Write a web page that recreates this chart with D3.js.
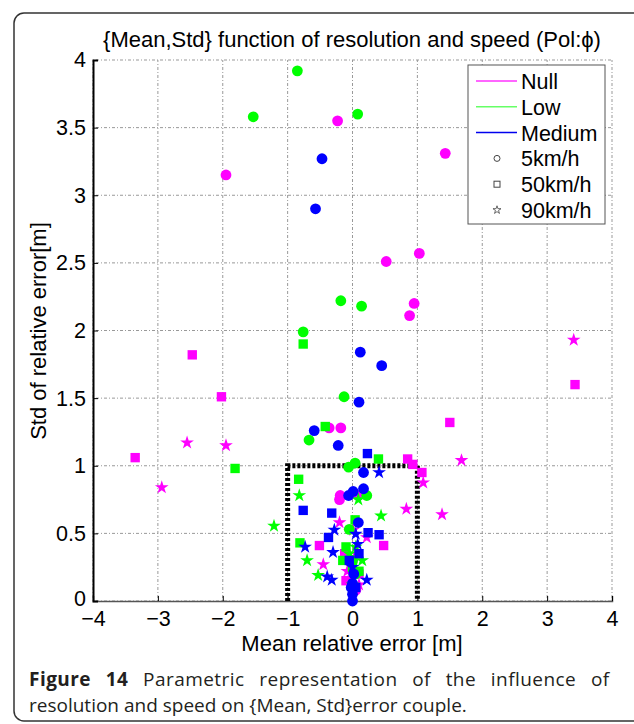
<!DOCTYPE html>
<html>
<head>
<meta charset="utf-8">
<script src="https://cdn.jsdelivr.net/npm/d3@7"></script>
<style>
body { margin: 0; background: #fff; }
</style>
</head>
<body>
<div id="chart"></div>
<script>
// {mean, std} pairs, one list per resolution / speed
var nullSlow = [[-0.23, 3.55], [1.43, 3.31], [-1.95, 3.15], [1.03, 2.57], [0.52, 2.51], [0.95, 2.2],
    [0.88, 2.11], [-0.36, 1.28], [-0.18, 1.28], [-0.2, 0.75], [-0.19, 0.78], [0.09, 0.78],
    [0.0, 0.3], [-0.05, 0.15], [0.05, 0.08]];
var nullMid = [[-3.35, 1.06], [-2.47, 1.82], [-2.02, 1.51], [3.43, 1.6], [1.5, 1.32], [0.85, 1.05],
    [0.93, 1.01], [1.07, 0.95], [-0.51, 0.41], [0.48, 0.41], [0.1, 0.2], [-0.1, 0.15], [-0.12, 0.35]];
var nullFast = [[3.41, 1.93], [-2.55, 1.17], [-1.95, 1.15], [-2.94, 0.84], [1.68, 1.04], [1.09, 0.875],
    [0.83, 0.68], [1.38, 0.64], [0.01, 0.525], [0.22, 0.47], [-0.45, 0.27], [-0.2, 0.58],
    [0.05, 0.35], [0.1, 0.12], [-0.08, 0.22]];

var lowSlow = [[-0.85, 3.92], [-1.53, 3.58], [0.08, 3.6], [-0.18, 2.22], [0.14, 2.18], [-0.76, 1.99],
    [-0.13, 1.51], [-0.67, 1.19], [-0.06, 0.99], [0.04, 1.02], [0.22, 0.78], [-0.05, 0.53],
    [0.0, 0.3], [0.05, 0.2]];
var lowMid = [[-0.76, 1.9], [-1.81, 0.98], [-0.42, 1.29], [0.4, 1.05], [-0.83, 0.9], [0.04, 0.6],
    [-0.81, 0.43], [-0.1, 0.4], [0.0, 0.25], [-0.15, 0.3], [0.1, 0.22]];
var lowFast = [[-1.21, 0.555], [0.44, 0.63], [-0.82, 0.78], [0.09, 0.75], [-0.7, 0.3], [-0.53, 0.19],
    [0.05, 0.4], [-0.05, 0.35], [0.15, 0.3], [0.0, 0.12]];

var medSlow = [[-0.47, 3.27], [-0.57, 2.9], [0.12, 1.84], [0.45, 1.74], [0.1, 1.47], [-0.59, 1.26],
    [-0.22, 1.15], [0.17, 0.95], [0.01, 0.81], [0.17, 0.83], [-0.06, 0.78], [0.09, 0.58],
    [0.0, 0.05], [0.0, 0.0], [-0.02, 0.1], [0.02, 0.2], [0.0, 0.13]];
var medMid = [[0.23, 1.09], [-0.76, 0.67], [-0.32, 0.65], [0.24, 0.505], [0.41, 0.49], [-0.37, 0.47],
    [0.1, 0.35], [-0.05, 0.3], [0.05, 0.1]];
var medFast = [[0.41, 0.95], [-0.28, 0.525], [0.05, 0.495], [-0.73, 0.4], [-0.3, 0.36], [-0.39, 0.18],
    [-0.32, 0.155], [0.22, 0.155], [0.0, 0.25], [0.08, 0.42]];

var resolutions = ["Null", "Low", "Medium"];
var speeds = ["5km/h", "50km/h", "90km/h"];
var xTicks = [-4, -3, -2, -1, 0, 1, 2, 3, 4];
var yTicks = [0, 0.5, 1, 1.5, 2, 2.5, 3, 3.5, 4];
var zoneX = [-1, 1];
var zoneY = [0, 1];

var series = [
    { res: "Null", speed: "5km/h", data: nullSlow },
    { res: "Null", speed: "50km/h", data: nullMid },
    { res: "Null", speed: "90km/h", data: nullFast },
    { res: "Low", speed: "5km/h", data: lowSlow },
    { res: "Low", speed: "50km/h", data: lowMid },
    { res: "Low", speed: "90km/h", data: lowFast },
    { res: "Medium", speed: "5km/h", data: medSlow },
    { res: "Medium", speed: "50km/h", data: medMid },
    { res: "Medium", speed: "90km/h", data: medFast }
];

var W = 634, H = 724;
var svg = d3.select("#chart").append("svg")
    .attr("width", W)
    .attr("height", H)
    .style("font-family", "'Liberation Sans', Arial, sans-serif");

// rounded frame of the figure panel
svg.append("rect")
    .attr("x", 14).attr("y", 13)
    .attr("width", 640).attr("height", 708)
    .attr("rx", 10)
    .attr("fill", "none")
    .attr("stroke", "#333")
    .attr("stroke-width", 1.5);

var x = d3.scaleLinear().domain([-4, 4]).range([93, 612]);
var y = d3.scaleLinear().domain([0, 4]).range([601, 60]);

var color = d3.scaleOrdinal().domain(resolutions).range(["#ff00ff", "#00ff00", "#0000ff"]);
var legendColor = d3.scaleOrdinal().domain(resolutions).range(["#ff33ff", "#66ff66", "#0000ee"]);

// grid
var grid = svg.append("g");
grid.selectAll(".gx").data(xTicks).enter().append("line")
    .attr("x1", d => x(d)).attr("x2", d => x(d))
    .attr("y1", y(0)).attr("y2", y(4))
    .attr("stroke", "#999").attr("stroke-width", 1)
    .attr("stroke-dasharray", "1,2,3,2");
grid.selectAll(".gy").data(yTicks).enter().append("line")
    .attr("x1", x(-4)).attr("x2", x(4))
    .attr("y1", d => y(d)).attr("y2", d => y(d))
    .attr("stroke", "#999").attr("stroke-width", 1)
    .attr("stroke-dasharray", "1,2,3,2");

// axes
var xAxis = d3.axisBottom(x).tickValues(xTicks).tickSize(-5).tickPadding(10)
    .tickFormat(d3.format("d"));
var yAxis = d3.axisLeft(y).tickValues(yTicks).tickSize(-5).tickPadding(7)
    .tickFormat(d => d);

var gx = svg.append("g").attr("transform", "translate(0," + y(0) + ")").call(xAxis);
var gy = svg.append("g").attr("transform", "translate(" + x(-4) + ",0)").call(yAxis);
gx.select(".domain").attr("stroke", "#555").attr("stroke-width", 1.5);
gy.select(".domain").attr("stroke", "#000").attr("stroke-width", 2);
[gx, gy].forEach(function(g) {
    g.selectAll("text").attr("font-size", 21.5).attr("fill", "#000")
        .style("font-family", "'Liberation Sans', Arial, sans-serif");
    g.selectAll(".tick line").attr("stroke", "#000");
});
// the "0" of the y axis sits a little above the corner
gy.selectAll(".tick text").filter(d => d == 0).attr("dy", "0.2em");

// region |mean| < 1, std < 1
svg.append("path")
    .attr("d", "M" + x(zoneX[0]) + "," + y(zoneY[0]) + "V" + y(zoneY[1]) + "H" + x(zoneX[1]) + "V" + y(zoneY[0]))
    .attr("fill", "none")
    .attr("stroke", "#000")
    .attr("stroke-width", 5)
    .attr("stroke-dasharray", "3,2");

// markers
var starPath = d3.symbol().type(d3.symbolStar).size(58)();
var squarePath = d3.symbol().type(d3.symbolSquare).size(88)();

var marks = svg.append("g");
series.forEach(function(s) {
    var g = marks.append("g").attr("fill", color(s.res));
    if (s.speed == "5km/h") {
        g.selectAll("circle").data(s.data).enter().append("circle")
            .attr("cx", d => x(d[0])).attr("cy", d => y(d[1])).attr("r", 5.4);
    } else {
        g.selectAll("path").data(s.data).enter().append("path")
            .attr("d", s.speed == "50km/h" ? squarePath : starPath)
            .attr("transform", d => "translate(" + x(d[0]) + "," + y(d[1]) + ")");
    }
});

// title and axis labels
svg.append("text")
    .attr("x", 352).attr("y", 47)
    .attr("text-anchor", "middle")
    .attr("font-size", 22)
    .text("{Mean,Std} function of resolution and speed (Pol:\u03d5)");

svg.append("text")
    .attr("x", 352).attr("y", 651)
    .attr("text-anchor", "middle")
    .attr("font-size", 22)
    .text("Mean relative error [m]");

svg.append("text")
    .attr("transform", "translate(46,331) rotate(-90)")
    .attr("text-anchor", "middle")
    .attr("font-size", 22)
    .text("Std of relative error[m]");

// legend
var legend = svg.append("g");
legend.append("rect")
    .attr("x", 468).attr("y", 65)
    .attr("width", 137).attr("height", 159)
    .attr("fill", "#fff")
    .attr("stroke", "#555")
    .attr("stroke-width", 1);

var rowY = d3.scalePoint().domain(resolutions.concat(speeds)).range([81, 210]);

resolutions.forEach(function(r) {
    legend.append("line")
        .attr("x1", 476).attr("x2", 517)
        .attr("y1", rowY(r)).attr("y2", rowY(r))
        .attr("stroke", legendColor(r)).attr("stroke-width", 1.5);
});
speeds.forEach(function(s, i) {
    var cy = rowY(s);
    if (i == 0) {
        legend.append("circle").attr("cx", 497).attr("cy", cy).attr("r", 3)
            .attr("fill", "none").attr("stroke", "#444");
    } else if (i == 1) {
        legend.append("rect").attr("x", 494).attr("y", cy - 3).attr("width", 6).attr("height", 6)
            .attr("fill", "none").attr("stroke", "#444");
    } else {
        legend.append("path").attr("d", d3.symbol().type(d3.symbolStar).size(20)())
            .attr("transform", "translate(497," + cy + ")")
            .attr("fill", "none").attr("stroke", "#444").attr("stroke-width", 0.8);
    }
});
legend.selectAll(".lab").data(resolutions.concat(speeds)).enter().append("text")
    .attr("x", 521).attr("y", d => rowY(d) + 8)
    .attr("font-size", 21.5)
    .text(d => d);

// figure caption
var cap = svg.append("g")
    .style("font-family", "'Open Sans', 'Noto Sans', sans-serif")
    .attr("fill", "#231f20")
    .attr("font-size", 19);
var line1 = cap.append("text").attr("x", 29).attr("y", 686);
line1.append("tspan").attr("font-weight", "bold").text("Figure 14");
line1.append("tspan").text(" Parametric representation of the influence of");
// justify the first line: spread the gaps between words
var w1 = line1.node().getComputedTextLength();
var extra = Math.max(0, 619 - 29 - w1);
line1.attr("word-spacing", extra * 0.75 / 8).attr("letter-spacing", extra * 0.25 / 55);

cap.append("text").attr("x", 29).attr("y", 712)
    .text("resolution and speed on {Mean, Std}error couple.");
</script>
</body>
</html>
